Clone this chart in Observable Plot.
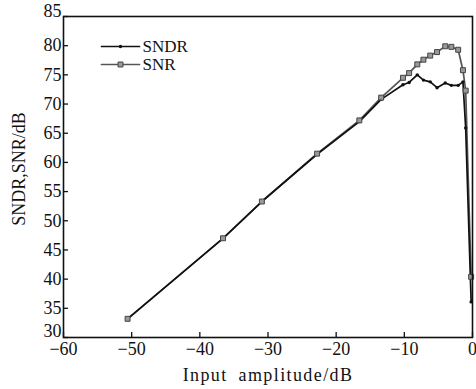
<!DOCTYPE html>
<html>
<head>
<meta charset="utf-8">
<script src="https://cdn.jsdelivr.net/npm/d3@7"></script>
<script src="https://cdn.jsdelivr.net/npm/@observablehq/plot@0.6"></script>
<style>
  html, body { margin: 0; padding: 0; background: #fff; }
  #chart svg { display: block; }
</style>
</head>
<body>
<div id="chart"></div>
<script>
const inputAmplitude = [-50.6, -36.6, -30.9, -22.8, -16.6, -13.4, -10.2, -9.3, -8.1, -7.2, -6.2, -5.2, -4.0, -3.1, -2.1, -1.4, -1.0, -0.2];
const snr  = [33.2, 47.0, 53.3, 61.5, 67.2, 71.1, 74.5, 75.3, 76.8, 77.6, 78.3, 78.9, 79.9, 79.8, 79.3, 75.8, 72.3, 40.4];
const sndr = [33.2, 47.0, 53.3, 61.4, 67.0, 70.8, 73.3, 73.7, 75.0, 74.1, 73.8, 72.8, 73.6, 73.2, 73.2, 73.8, 65.9, 36.1];
const xTicks = [-60, -50, -40, -30, -20, -10, 0];
const yTicks = [30, 35, 40, 45, 50, 55, 60, 65, 70, 75, 80, 85];
const seriesNames = ["SNDR", "SNR"];
const xTitle = "Input amplitude/dB";
const yTitle = "SNDR,SNR/dB";

const sndrData = inputAmplitude.map((x, i) => ({x, y: sndr[i]}));
const snrData = inputAmplitude.map((x, i) => ({x, y: snr[i]}));

const yMid = yTicks.slice(1, -1);
const yLow = yTicks.slice(0, 1);
const yHigh = yTicks.slice(-1);

const lineShape = {
  draw(context, l) { context.moveTo(0, 0); context.lineTo(0, -l); }
};

const chart = Plot.plot({
  width: 476,
  height: 389,
  marginLeft: 63,
  marginRight: 4,
  marginTop: 16,
  marginBottom: 52,
  style: {fontFamily: "'Liberation Serif', 'Times New Roman', serif", fontSize: "18px", color: "#111", background: "#fff"},
  x: {domain: [-60, 0]},
  y: {domain: [30, 85]},
  marks: [
    Plot.axisX(xTicks, {tickSize: 0, tickPadding: 5, fontSize: 18, label: null}),
    Plot.axisX(xTicks, {tickSize: -5, tickFormat: () => "", label: null, strokeWidth: 1.3}),
    Plot.axisY(yMid, {tickSize: 0, tickPadding: 2, fontSize: 18, label: null}),
    Plot.axisY(yLow, {tickSize: 0, tickPadding: 2, dy: -6, fontSize: 18, label: null}),
    Plot.axisY(yHigh, {tickSize: 0, tickPadding: 2, dy: -5, fontSize: 18, label: null}),
    Plot.axisY(yTicks, {tickSize: -5, tickFormat: () => "", label: null, strokeWidth: 1.3}),
    Plot.text([xTitle], {frameAnchor: "bottom", textAnchor: "middle", lineAnchor: "middle", dy: 38, dx: 0, fontSize: 18, fill: "#111"}),
    Plot.text([yTitle], {frameAnchor: "left", textAnchor: "middle", lineAnchor: "middle", dx: -44, dy: -8, rotate: -90, fontSize: 18, fill: "#111"}),
    Plot.line(snrData, {x: "x", y: "y", stroke: "#555", strokeWidth: 1.7}),
    Plot.line(sndrData, {x: "x", y: "y", stroke: "#111", strokeWidth: 1.7}),
    Plot.dot(sndrData, {x: "x", y: "y", r: 1.7, fill: "#111"}),
    Plot.dot(snrData, {x: "x", y: "y", symbol: "square", r: 2.8, fill: "#999", stroke: "#444", strokeWidth: 1}),
    // legend
    Plot.vector([seriesNames[0]], {frameAnchor: "top-left", dx: 38, dy: 30, length: 38, rotate: 90, anchor: "start", shape: lineShape, stroke: "#111", strokeWidth: 1.7}),
    Plot.dot([seriesNames[0]], {frameAnchor: "top-left", dx: 57, dy: 30, r: 1.7, fill: "#111"}),
    Plot.text([seriesNames[0]], {frameAnchor: "top-left", dx: 79, dy: 30, text: d => d, textAnchor: "start", lineAnchor: "middle", fontSize: 17, fill: "#111"}),
    Plot.vector([seriesNames[1]], {frameAnchor: "top-left", dx: 38, dy: 48, length: 38, rotate: 90, anchor: "start", shape: lineShape, stroke: "#555", strokeWidth: 1.7}),
    Plot.dot([seriesNames[1]], {frameAnchor: "top-left", dx: 57, dy: 48, symbol: "square", r: 2.8, fill: "#999", stroke: "#444", strokeWidth: 1}),
    Plot.text([seriesNames[1]], {frameAnchor: "top-left", dx: 79, dy: 48, text: d => d, textAnchor: "start", lineAnchor: "middle", fontSize: 17, fill: "#111"}),
    Plot.frame({stroke: "#111", strokeWidth: 1.6})
  ]
});
d3.select(chart).selectAll("text").filter(function() { return this.textContent === xTitle; })
  .style("letter-spacing", "1.4px").style("word-spacing", "5px");
document.getElementById("chart").appendChild(chart);
</script>
</body>
</html>
